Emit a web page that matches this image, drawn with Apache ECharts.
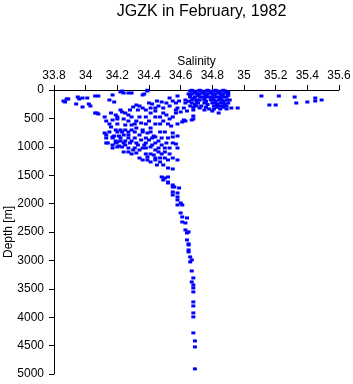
<!DOCTYPE html>
<html>
<head>
<meta charset="utf-8">
<script src="https://cdn.jsdelivr.net/npm/echarts@6/dist/echarts.min.js"></script>
<style>html,body{margin:0;padding:0;background:#fff;}#c{width:353px;height:384px;}</style>
</head>
<body>
<div id="c"></div>
<script>
const titleText = 'JGZK in February, 1982';
const xName = 'Salinity';
const yName = 'Depth [m]';

// shallow scattered points
const shallowSal = [33.88,33.89,33.87,33.86,33.95,33.96,33.98,33.94,34.01,34.02,33.98,34.03,34.06,34.08,34.17,34.15,34.18,34.23,34.24,34.27,34.29,34.22,34.30,34.39,34.37,34.36,34.39,34.32,34.34,34.40,34.42,34.45,34.48,34.51,34.55,34.57,34.53,34.58,34.59,34.46,34.49,34.53,34.62,34.64,34.60,34.57,34.68,34.72,34.75,34.78,34.80,34.92,34.96,34.84,34.68,34.63,34.61,35.11,35.22,35.32,35.16,35.20,35.33,35.40,35.45,35.45,35.49];
const shallowDepth = [158,158,211,194,123,158,141,246,141,246,299,282,106,106,88,176,211,18,53,53,53,35,299,18,70,88,5,264,282,229,246,194,211,229,194,229,141,106,194,282,317,282,317,370,387,405,352,317,352,334,370,317,317,405,510,546,563,106,106,123,264,264,229,211,141,194,176];

// dense near-surface cluster
const coreSal = [34.66,34.68,34.71,34.73,34.76,34.78,34.81,34.83,34.86,34.88,
  34.65,34.67,34.70,34.72,34.75,34.77,34.80,34.82,34.85,34.87,34.90,
  34.66,34.69,34.72,34.74,34.77,34.79,34.82,34.84,34.87,34.89,
  34.63,34.67,34.70,34.72,34.75,34.79,34.81,34.84,34.86,34.89,34.91,
  34.63,34.67,34.71,34.75,34.80,34.82,34.85,34.87,34.90,
  34.66,34.70,34.73,34.81,34.84,34.86,34.89,
  34.81,34.85,34.89,
  34.69,34.74,34.79,34.84,34.89,
  34.68,34.75,34.80,34.85,
  34.69,34.77,34.83,34.88,
  34.67,34.72,34.77,34.82,34.87,34.90,
  34.66,34.71,34.76,34.81,34.86,34.90,
  34.65,34.70,34.76,34.82,34.87,
  34.68,34.76,34.83,34.87];
const coreDepth = [18,18,18,18,18,18,18,18,18,18,
  70,70,70,70,70,70,70,70,70,70,70,
  123,123,123,123,123,123,123,123,123,123,
  176,176,176,176,176,176,176,176,176,176,176,
  229,229,229,229,229,229,229,229,229,
  282,282,282,282,282,282,282,
  334,334,334,
  45,45,45,45,45,
  150,150,150,150,
  255,255,255,255,
  5,5,5,5,5,40,
  95,95,95,95,95,95,
  200,200,200,200,200,
  305,305,305,305];

// intermediate water cluster
const midSal = [34.07,34.08,34.16,34.19,34.13,34.17,34.20,34.23,34.25,34.27,34.24,34.27,34.25,34.29,34.16,34.19,34.22,34.25,34.29,34.13,34.13,34.18,34.21,34.24,34.27,34.19,34.22,34.25,34.29,34.13,34.17,34.21,34.25,
  34.32,34.35,34.40,34.49,34.53,34.62,34.67,34.68,34.41,34.44,34.49,34.51,34.32,34.36,34.41,34.54,34.34,34.39,34.43,34.55,34.35,34.40,34.46,34.58,34.37,34.42,34.57,
  34.41,34.44,34.44,34.46,34.43,34.39,34.36,34.39,34.41,34.44,34.45,34.55,34.55,34.58,34.52,34.50,34.48,34.47,34.49,34.58,34.52,34.55,34.48,34.50,34.52,34.52,34.55,34.56,
  34.12,34.14,34.17,34.20,34.20,34.23,34.24,34.27,34.30,34.32,34.34,34.33,34.06,
  34.12,34.20,34.29,34.34,34.38,34.44,34.47,34.55,
  34.15,34.20,34.31,34.38,34.44,34.47,34.52,34.58,
  34.15,34.20,34.23,34.27,34.31,34.36,34.41,34.47,34.50,
  34.17,34.22,34.27,34.31,34.38,34.42,34.48,34.52,
  34.19,34.24,34.28,34.32,34.38,34.44,34.51,
  34.17,34.27,34.31,34.36,34.38,34.46,34.50,34.53,
  34.29,34.38,34.41,34.48,34.53,
  34.34,34.44,34.47,34.50,34.55,
  34.22,34.28,34.33,34.38,34.57,
  34.36,34.41,34.44,34.58];
const midDepth = [405,422,405,440,546,528,510,387,405,440,510,546,616,616,651,704,704,704,704,792,845,810,810,792,792,898,898,898,898,933,968,986,968,
  546,581,546,546,510,528,528,458,405,370,405,440,669,704,669,634,792,757,810,757,880,880,898,810,968,968,950,
  1003,827,1056,1091,1144,1179,1232,1232,1267,1232,1320,827,933,1021,1232,1091,968,1267,1320,1232,1373,1390,1531,1549,1531,1637,1672,1707,
  757,933,827,915,1003,1003,1091,1091,1056,1109,1056,968,405,
  475,475,475,475,475,475,475,475,
  598,598,598,598,598,598,598,598,
  739,739,739,739,739,739,739,739,739,
  845,845,845,845,845,845,845,845,
  933,933,933,933,933,933,933,
  1021,1021,1021,1021,1021,1021,1021,1021,
  1126,1126,1126,1126,1126,
  1197,1197,1197,1197,1197,
  352,352,352,352,352,
  317,317,317,317];

// deep tail
const deepSal = [34.49,34.52,34.55,34.59,34.55,34.58,34.55,34.58,34.58,34.60,34.61,34.58,34.60,34.61,34.64,34.61,34.63,34.63,34.65,34.64,34.64,34.65,34.65,34.65,34.65,34.66,34.67,34.66,34.67,34.68,34.67,34.68,34.68,34.68,34.68,34.68,34.68,34.68,34.68,34.69,34.69,34.69];
const deepDepth = [1584,1619,1707,1725,1795,1813,1848,1883,1936,1989,2024,2024,2165,2235,2253,2323,2341,2464,2499,2517,2640,2728,2710,2816,2851,2939,2992,3027,3186,3309,3379,3432,3485,3555,3731,3802,3925,3995,4277,4418,4523,4910];

function pairs(s, d) { return s.map((v, i) => [v, d[i]]); }
const allData = [].concat(pairs(shallowSal, shallowDepth), pairs(coreSal, coreDepth), pairs(midSal, midDepth), pairs(deepSal, deepDepth));

const chart = echarts.init(document.getElementById('c'), null, {renderer: 'canvas'});
const font = 'Liberation Sans, Arial, Helvetica, sans-serif';
chart.setOption({
  animation: false,
  backgroundColor: '#fff',
  title: {
    text: titleText, left: 196.5, textAlign: 'center', top: -1,
    textStyle: {fontSize: 16, fontWeight: 'normal', color: '#000', fontFamily: font}
  },
  grid: {left: 54, right: 14, top: 90, bottom: 10, containLabel: false, outerBoundsMode: 'none'},
  xAxis: {
    type: 'value', position: 'top', min: 33.8, max: 35.6, interval: 0.2,
    name: xName, nameLocation: 'middle', nameGap: 22, nameMoveOverlap: false,
    nameTextStyle: {fontSize: 12, color: '#000', fontFamily: font},
    axisLine: {show: true, lineStyle: {color: '#000', width: 1}},
    axisTick: {show: true, inside: false, length: 5, lineStyle: {color: '#000'}},
    axisLabel: {fontSize: 12, color: '#000', margin: 8, fontFamily: font, formatter: v => String(+v.toFixed(1))},
    splitLine: {show: false}
  },
  yAxis: {
    type: 'value', inverse: true, min: 0, max: 5000, interval: 500,
    name: yName, nameLocation: 'middle', nameGap: 39, nameRotate: 90, nameMoveOverlap: false,
    nameTextStyle: {fontSize: 12, color: '#000', fontFamily: font},
    axisLine: {show: true, lineStyle: {color: '#000', width: 1}},
    axisTick: {show: true, inside: false, length: 5, lineStyle: {color: '#000'}},
    axisLabel: {fontSize: 12, color: '#000', margin: 10, fontFamily: font, formatter: v => String(v)},
    splitLine: {show: false}
  },
  series: [{
    type: 'scatter', data: allData, symbol: 'rect', symbolSize: [4, 3],
    itemStyle: {color: '#0000ff', opacity: 1}
  }]
});
</script>
</body>
</html>
